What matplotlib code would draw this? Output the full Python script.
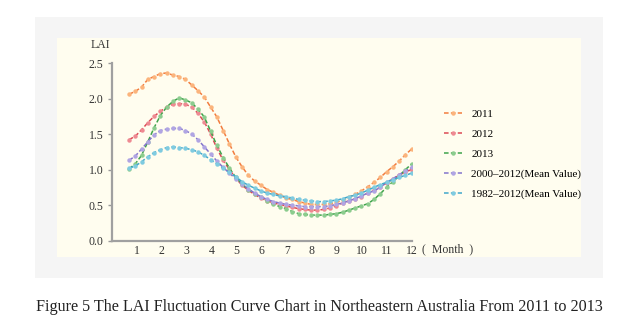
import numpy as np
import matplotlib.pyplot as plt
from matplotlib.patches import Rectangle

# 8-day composite periods, placed on a month axis
periods = np.arange(46)
months = 0.69 + periods * 0.2513

lai_2011 = [2.06, 2.10, 2.16, 2.27, 2.31, 2.35, 2.36, 2.33, 2.31, 2.27,
            2.19, 2.11, 2.02, 1.88, 1.74, 1.55, 1.36, 1.18, 1.04, 0.92,
            0.84, 0.78, 0.72, 0.68, 0.64, 0.60, 0.58, 0.55, 0.53, 0.51,
            0.51, 0.51, 0.52, 0.54, 0.57, 0.61, 0.65, 0.70, 0.76, 0.82,
            0.89, 0.97, 1.04, 1.12, 1.21, 1.29]
lai_2012 = [1.42, 1.47, 1.56, 1.66, 1.75, 1.82, 1.88, 1.92, 1.93, 1.92,
            1.88, 1.79, 1.67, 1.50, 1.30, 1.13, 1.00, 0.88, 0.78, 0.71,
            0.65, 0.60, 0.56, 0.53, 0.51, 0.49, 0.47, 0.45, 0.44, 0.43,
            0.43, 0.44, 0.46, 0.49, 0.53, 0.56, 0.59, 0.62, 0.67, 0.71,
            0.76, 0.81, 0.87, 0.92, 0.97, 1.00]
lai_2013 = [1.01, 1.08, 1.20, 1.39, 1.59, 1.76, 1.88, 1.96, 2.01, 1.98,
            1.94, 1.85, 1.74, 1.54, 1.34, 1.17, 1.02, 0.89, 0.80, 0.72,
            0.66, 0.61, 0.56, 0.51, 0.48, 0.45, 0.41, 0.38, 0.37, 0.36,
            0.36, 0.36, 0.37, 0.38, 0.40, 0.43, 0.46, 0.49, 0.52, 0.58,
            0.66, 0.75, 0.83, 0.91, 1.00, 1.08]
lai_2000_2012 = [1.13, 1.19, 1.29, 1.39, 1.49, 1.55, 1.57, 1.58, 1.58, 1.55,
                 1.50, 1.42, 1.32, 1.22, 1.12, 1.03, 0.95, 0.87, 0.80, 0.73,
                 0.67, 0.62, 0.58, 0.55, 0.53, 0.51, 0.50, 0.49, 0.48, 0.48,
                 0.48, 0.48, 0.49, 0.51, 0.53, 0.56, 0.59, 0.63, 0.67, 0.70,
                 0.75, 0.82, 0.87, 0.93, 0.98, 1.03]
lai_1982_2012 = [1.02, 1.05, 1.11, 1.18, 1.24, 1.28, 1.31, 1.32, 1.31, 1.30,
                 1.28, 1.25, 1.20, 1.14, 1.08, 1.02, 0.96, 0.90, 0.83, 0.78,
                 0.74, 0.70, 0.67, 0.65, 0.63, 0.62, 0.60, 0.58, 0.57, 0.56,
                 0.55, 0.55, 0.56, 0.57, 0.59, 0.62, 0.64, 0.67, 0.71, 0.75,
                 0.79, 0.82, 0.86, 0.89, 0.92, 0.95]

labels = ['2011', '2012', '2013', '2000\u20132012(Mean Value)', '1982\u20132012(Mean Value)']
series = [lai_2011, lai_2012, lai_2013, lai_2000_2012, lai_1982_2012]
line_cols = ['#f27c3e', '#dc4a55', '#3fa34b', '#8374cc', '#41a8cb']
mark_cols = ['#fbb47c', '#ee8a92', '#8ccc8e', '#b0a5e3', '#7fcbe0']

month_ticks = list(range(1, 13))
y_ticks = [0.0, 0.5, 1.0, 1.5, 2.0, 2.5]

serif = 'Liberation Serif'

fig = plt.figure(figsize=(6.39, 3.29), dpi=100)
fig.patch.set_facecolor('white')
fig.patches.append(Rectangle((0.0548, 0.155), 0.889, 0.793, transform=fig.transFigure,
                             facecolor='#f5f5f5', edgecolor='none', zorder=-2))
fig.patches.append(Rectangle((0.0892, 0.2188), 0.820, 0.6657, transform=fig.transFigure,
                             facecolor='#fffdef', edgecolor='none', zorder=-1))

ax = fig.add_axes([0.1748, 0.2684, 0.4695, 0.5401])
ax.patch.set_alpha(0)

for vals, lab, lc, mc in zip(series, labels, line_cols, mark_cols):
    ax.plot(months, vals, linestyle=(0, (3, 1.5)), color=lc, linewidth=1.1,
            marker='o', markersize=3.2, markerfacecolor=mc, markeredgecolor='none',
            label=lab)

ax.set_xlim(0, 12)
ax.set_ylim(0, 2.5)
ax.set_xticks(month_ticks)
ax.set_xticklabels([str(m) for m in month_ticks], fontfamily=serif, fontsize=8.5, color='#333333')
ax.set_yticks(y_ticks)
ax.set_yticklabels(['%.1f' % v for v in y_ticks], fontfamily=serif, fontsize=8.5, color='#333333')
ax.tick_params(axis='x', length=0, pad=3)
ax.tick_params(axis='y', length=3, width=1, color='#999999', pad=3)
for s in ['top', 'right']:
    ax.spines[s].set_visible(False)
for s in ['left', 'bottom']:
    ax.spines[s].set_color('#a0a0a0')
    ax.spines[s].set_linewidth(1.6)

fig.text(100 / 639, 1 - 45 / 329, 'LAI', fontfamily=serif, fontsize=8.5,
         ha='center', va='center', color='#333333')
fig.text(422 / 639, 1 - 249 / 329, '(  Month  )', fontfamily=serif, fontsize=8.5,
         ha='left', va='center', color='#333333')

fig.legend(loc='upper left', bbox_to_anchor=(440 / 639, 1 - 105 / 329), frameon=False,
           prop={'family': serif, 'size': 8}, handlelength=1.6, handletextpad=0.8,
           labelspacing=0.9, numpoints=1, borderaxespad=0)

fig.text(0.5, 1 - 307 / 329,
         'Figure 5 The LAI Fluctuation Curve Chart in Northeastern Australia From 2011 to 2013',
         fontfamily=serif, fontsize=11.6, ha='center', va='center', color='#222222')

fig.savefig('out.png', dpi=100)
